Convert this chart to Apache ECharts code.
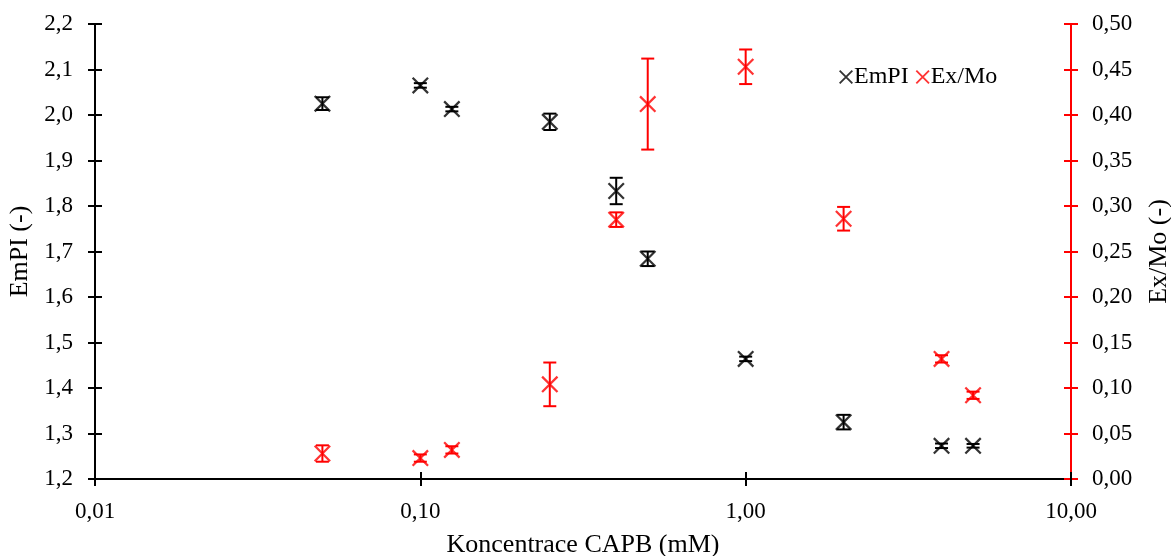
<!DOCTYPE html>
<html>
<head>
<meta charset="utf-8">
<script src="https://cdn.jsdelivr.net/npm/echarts@6/dist/echarts.min.js"></script>
<style>
  html, body { margin: 0; padding: 0; background: #fff; }
  #chart { width: 1171px; height: 556px; }
</style>
</head>
<body>
<div id="chart"></div>
<script>
// concentration of CAPB (mM)
var conc = [0.05, 0.10, 0.125, 0.25, 0.40, 0.50, 1.00, 2.00, 4.00, 5.00];
// EmPI, left axis
var empi = [2.025, 2.065, 2.013, 1.985, 1.833, 1.684, 1.464, 1.325, 1.273, 1.273];
var empiErr = [0.014, 0.005, 0.005, 0.018, 0.029, 0.016, 0.005, 0.016, 0.005, 0.004];
// Ex/Mo, right axis
var exmo = [0.028, 0.023, 0.032, 0.104, 0.285, 0.412, 0.453, 0.286, 0.132, 0.092];
var exmoErr = [0.009, 0.004, 0.004, 0.024, 0.008, 0.050, 0.019, 0.013, 0.004, 0.004];

var FONT = 'Liberation Serif';
var RED = '#ff0000';
var XMARK = 'path://M0,1.5L1.5,0L16,14.5L14.5,16Z M14.5,0L16,1.5L1.5,16L0,14.5Z';

function points(xs, ys) {
  var out = [];
  for (var i = 0; i < xs.length; i++) out.push([xs[i], ys[i]]);
  return out;
}
function errPoints(xs, ys, es) {
  var out = [];
  for (var i = 0; i < xs.length; i++) out.push([xs[i], ys[i], es[i]]);
  return out;
}

function errorBar(color) {
  return function (params, api) {
    var x = api.value(0), y = api.value(1), e = api.value(2);
    var top = api.coord([x, y + e]);
    var bot = api.coord([x, y - e]);
    var cap = 6.5;
    var st = { stroke: color, lineWidth: 2 };
    return {
      type: 'group',
      children: [
        { type: 'line', shape: { x1: top[0], y1: top[1], x2: bot[0], y2: bot[1] }, style: st },
        { type: 'line', shape: { x1: top[0] - cap, y1: top[1], x2: top[0] + cap, y2: top[1] }, style: st },
        { type: 'line', shape: { x1: bot[0] - cap, y1: bot[1], x2: bot[0] + cap, y2: bot[1] }, style: st }
      ]
    };
  };
}

function fmt(d) {
  return function (v) { return Number(v).toFixed(d).replace('.', ','); };
}

var chart = echarts.init(document.getElementById('chart'), null, { renderer: 'canvas' });

var xBase = {
  type: 'log', logBase: 10, min: 0.01, max: 10, position: 'bottom',
  splitLine: { show: false }, minorTick: { show: false }
};
var leftBase = { type: 'value', min: 1.2, max: 2.2, interval: 0.1, position: 'left', splitLine: { show: false } };
var rightBase = { type: 'value', min: 0, max: 0.5, interval: 0.05, position: 'right', splitLine: { show: false } };

chart.setOption({
  backgroundColor: '#fff',
  animation: false,
  grid: { left: 95, right: 100, top: 24, bottom: 77, containLabel: false, outerBoundsMode: 'none' },
  legend: {
    left: 834, top: 60,
    itemWidth: 14, itemHeight: 14, itemGap: 7,
    data: [
      { name: 'EmPI', icon: XMARK, itemStyle: { color: '#000' } },
      { name: 'Ex/Mo', icon: XMARK, itemStyle: { color: RED } }
    ],
    textStyle: { fontFamily: FONT, fontSize: 24, color: '#000', padding: [0, 0, 0, -4] }
  },
  xAxis: [
    Object.assign({}, xBase, {
      name: 'Koncentrace CAPB (mM)', nameLocation: 'middle', nameGap: 53,
      nameTextStyle: { fontFamily: FONT, fontSize: 26, color: '#000' },
      axisLine: { onZero: false, lineStyle: { color: '#000', width: 2 } },
      axisTick: { inside: false, length: 7, lineStyle: { color: '#000', width: 2 } },
      axisLabel: { margin: 21, fontFamily: FONT, fontSize: 23, color: '#000', formatter: fmt(2) }
    }),
    Object.assign({}, xBase, {
      axisLine: { show: false, onZero: false },
      axisTick: { inside: true, length: 7, lineStyle: { color: '#000', width: 2 } },
      axisLabel: { show: false }
    })
  ],
  yAxis: [
    Object.assign({}, leftBase, {
      name: 'EmPI (-)', nameLocation: 'middle', nameGap: 59, nameRotate: 90,
      nameTextStyle: { fontFamily: FONT, fontSize: 26, color: '#000' },
      axisLine: { show: true, onZero: false, lineStyle: { color: '#000', width: 2 } },
      axisTick: { show: true, length: 7, lineStyle: { color: '#000', width: 2 } },
      axisLabel: { margin: 22, fontFamily: FONT, fontSize: 23, color: '#000', formatter: fmt(1) }
    }),
    Object.assign({}, rightBase, {
      name: 'Ex/Mo (-)', nameLocation: 'middle', nameGap: 75, nameRotate: 90,
      nameTextStyle: { fontFamily: FONT, fontSize: 26, color: '#000' },
      axisLine: { show: true, onZero: false, lineStyle: { color: RED, width: 2 } },
      axisTick: { show: true, length: 7, lineStyle: { color: RED, width: 2 } },
      axisLabel: { margin: 21, fontFamily: FONT, fontSize: 23, color: '#000', formatter: fmt(2) }
    }),
    Object.assign({}, leftBase, {
      axisLine: { show: false, onZero: false },
      axisTick: { show: true, inside: true, length: 7, lineStyle: { color: '#000', width: 2 } },
      axisLabel: { show: false }
    }),
    Object.assign({}, rightBase, {
      axisLine: { show: false, onZero: false },
      axisTick: { show: true, inside: true, length: 7, lineStyle: { color: RED, width: 2 } },
      axisLabel: { show: false }
    })
  ],
  series: [
    {
      name: 'EmPI err', type: 'custom', xAxisIndex: 0, yAxisIndex: 0,
      renderItem: errorBar('#000'), encode: { x: 0, y: 1 },
      data: errPoints(conc, empi, empiErr), z: 2
    },
    {
      name: 'Ex/Mo err', type: 'custom', xAxisIndex: 0, yAxisIndex: 1,
      renderItem: errorBar(RED), encode: { x: 0, y: 1 },
      data: errPoints(conc, exmo, exmoErr), z: 2
    },
    {
      name: 'EmPI', type: 'scatter', xAxisIndex: 0, yAxisIndex: 0,
      symbol: XMARK, symbolSize: 17, itemStyle: { color: '#000' },
      data: points(conc, empi), z: 3
    },
    {
      name: 'Ex/Mo', type: 'scatter', xAxisIndex: 0, yAxisIndex: 1,
      symbol: XMARK, symbolSize: 17, itemStyle: { color: RED },
      data: points(conc, exmo), z: 3
    }
  ]
});
</script>
</body>
</html>
